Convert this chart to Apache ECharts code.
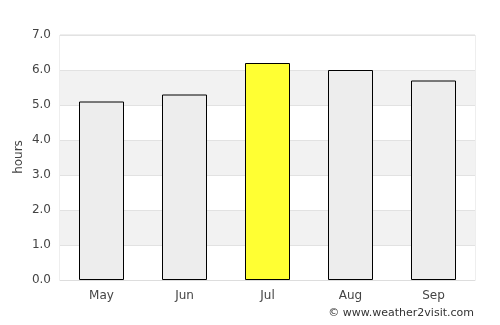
<!DOCTYPE html>
<html>
<head>
<meta charset="utf-8">
<script src="https://cdn.jsdelivr.net/npm/echarts@6/dist/echarts.min.js"></script>
<style>
  html, body { margin: 0; padding: 0; background: #fff; }
  #chart { width: 500px; height: 325px; }
</style>
</head>
<body>
<div id="chart"></div>
<script>
var months = ['May', 'Jun', 'Jul', 'Aug', 'Sep'];
var sunHours = [5.1, 5.3, 6.2, 6.0, 5.7];
var highlight = 'Jul';
var yTitle = 'hours';

var chart = echarts.init(document.getElementById('chart'));

//bar data, Jul yellow
var barData = [];
for (var i = 0; i < months.length; i++) {
    barData.push({
        value: sunHours[i],
        itemStyle: {color: months[i] == highlight ? '#ffff33' : '#ededed'}
    });
}

var option = {
    animation: false,
    textStyle: {fontFamily: 'DejaVu Sans'},
    grid: {left: 60, right: 25, top: 35, bottom: 45, show: true, borderColor: '#dddddd', borderWidth: 1},
    xAxis: {
        type: 'category',
        data: months,
        axisLine: {lineStyle: {color: '#dddddd'}},
        axisTick: {show: false},
        axisLabel: {color: '#444', fontSize: 12, margin: 10}
    },
    yAxis: {
        type: 'value',
        min: 0,
        max: 7,
        interval: 1,
        axisLine: {show: false},
        axisTick: {show: false},
        axisLabel: {color: '#444', fontSize: 12, margin: 9, formatter: function (v) { return v.toFixed(1); }},
        splitLine: {lineStyle: {color: '#e2e2e2'}},
        splitArea: {show: true, areaStyle: {color: ['#ffffff', '#f2f2f2']}}
    },
    series: [{
        type: 'bar',
        data: barData,
        barWidth: 45,
        itemStyle: {borderColor: '#000', borderWidth: 1}
    }],
    graphic: [{
        type: 'text',
        x: 19,
        y: 157,
        rotation: Math.PI / 2,
        style: {text: yTitle, fill: '#444', font: '12px DejaVu Sans', align: 'center', verticalAlign: 'middle'}
    }, {
        type: 'text',
        right: 26,
        top: 308,
        style: {text: '\u00a9 www.weather2visit.com', fill: '#333', font: '11px DejaVu Sans'}
    }]
};

chart.setOption(option);
</script>
</body>
</html>
